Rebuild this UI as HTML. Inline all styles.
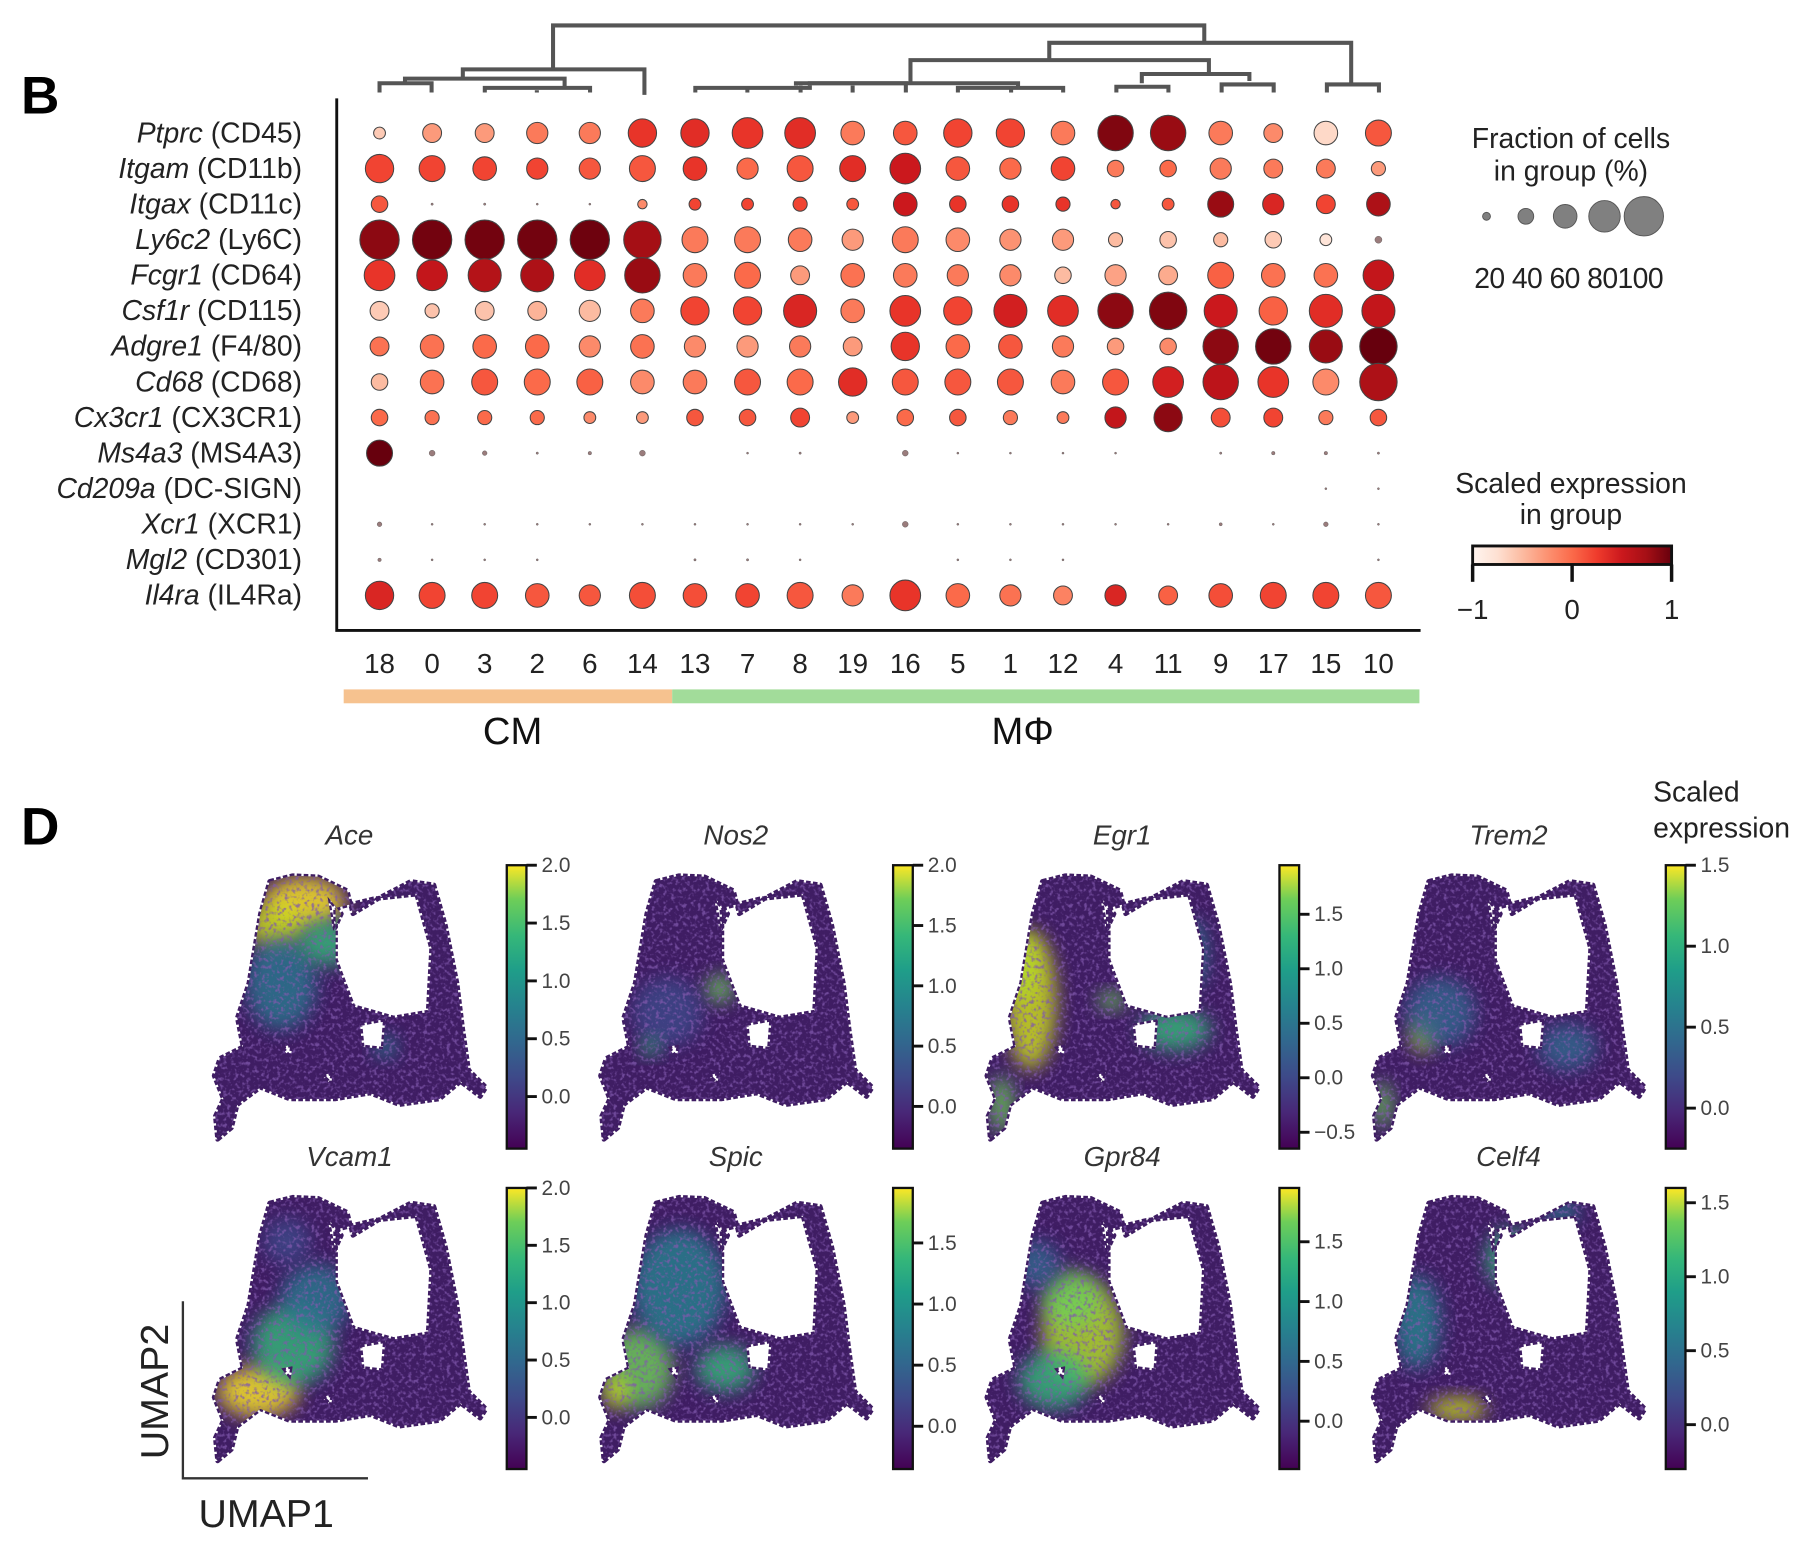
<!DOCTYPE html>
<html><head><meta charset="utf-8"><style>
html,body{margin:0;padding:0;background:#fff;}
svg{display:block;font-family:"Liberation Sans",Arial,sans-serif;}
</style></head><body>
<svg id="fig" width="1814" height="1550" viewBox="0 0 1568 1340" xmlns="http://www.w3.org/2000/svg">
<defs>
<linearGradient id="redsGrad" x1="0" x2="1" y1="0" y2="0">
<stop offset="0" stop-color="#fff5f0"/><stop offset="0.125" stop-color="#fee0d2"/><stop offset="0.25" stop-color="#fcbba1"/><stop offset="0.375" stop-color="#fc9272"/><stop offset="0.5" stop-color="#fb6a4a"/><stop offset="0.625" stop-color="#ef3b2c"/><stop offset="0.75" stop-color="#cb181d"/><stop offset="0.875" stop-color="#a50f15"/><stop offset="1" stop-color="#67000d"/>
</linearGradient>
<linearGradient id="viridis" x1="0" x2="0" y1="1" y2="0">
<stop offset="0" stop-color="#440154"/><stop offset="0.13" stop-color="#482878"/><stop offset="0.25" stop-color="#3e4989"/><stop offset="0.38" stop-color="#31688e"/><stop offset="0.5" stop-color="#26828e"/><stop offset="0.63" stop-color="#1f9e89"/><stop offset="0.75" stop-color="#35b779"/><stop offset="0.88" stop-color="#6ece58"/><stop offset="1" stop-color="#fde725"/>
</linearGradient>
<filter id="blur6" x="-50%" y="-50%" width="200%" height="200%"><feGaussianBlur stdDeviation="8"/></filter>
<filter id="speck" x="0" y="0" width="100%" height="100%"><feTurbulence type="fractalNoise" baseFrequency="0.3" numOctaves="2" seed="3"/><feColorMatrix type="matrix" values="0 0 0 0 0.22  0 0 0 0 0.1  0 0 0 0 0.42  0 0 0 4 -2.0"/></filter>
</defs>
<g id="dotplot"></g>
<g id="umaps"></g>
</svg>
<script>
// ---------- Dot plot data ----------
const genes = ["Ptprc","Itgam","Itgax","Ly6c2","Fcgr1","Csf1r","Adgre1","Cd68","Cx3cr1","Ms4a3","Cd209a","Xcr1","Mgl2","Il4ra"];
const proteins = ["CD45","CD11b","CD11c","Ly6C","CD64","CD115","F4/80","CD68","CX3CR1","MS4A3","DC-SIGN","XCR1","CD301","IL4Ra"];
const clusters = ["18","0","3","2","6","14","13","7","8","19","16","5","1","12","4","11","9","17","15","10"];
const fracPtprc = [30,48,48,54,54,72,72,78,78,60,60,72,72,60,90,90,60,48,60,66];
const exprPtprc = [-0.6,-0.3,-0.3,-0.1,-0.1,0.3,0.35,0.3,0.35,-0.1,0.1,0.2,0.2,-0.1,0.9,0.8,-0.1,-0.2,-0.7,0.1];
const fracItgam = [72,66,60,54,54,66,60,54,66,66,78,60,54,60,42,42,54,48,48,36];
const exprItgam = [0.2,0.2,0.2,0.2,0.1,0.1,0.3,0.0,0.1,0.35,0.5,0.1,0.0,0.2,-0.1,0.0,-0.1,-0.1,-0.1,-0.3];
const fracItgax = [42,6,6,3,3,24,30,30,36,30,60,42,42,36,24,30,66,54,48,60];
const exprItgax = [0.1,0,0,0,0,-0.2,0.2,0.2,0.2,0.1,0.5,0.3,0.3,0.3,0.1,0.1,0.8,0.4,0.2,0.7];
const fracLy6c2 = [100,100,100,100,100,95,66,66,60,54,66,60,54,54,36,42,36,42,30,18];
const exprLy6c2 = [0.85,0.95,0.95,0.95,0.97,0.75,-0.1,-0.1,-0.1,-0.3,-0.1,-0.2,-0.25,-0.3,-0.5,-0.55,-0.5,-0.6,-0.8,-0.7];
const fracFcgr1 = [78,78,84,84,78,90,60,66,48,60,60,54,54,42,54,48,66,60,60,78];
const exprFcgr1 = [0.3,0.55,0.65,0.7,0.35,0.8,-0.1,0,-0.3,-0.05,-0.1,-0.1,-0.2,-0.5,-0.35,-0.4,0.05,-0.05,-0.05,0.55];
const fracCsf1r = [48,36,48,48,54,60,72,72,84,60,78,72,84,78,90,95,84,72,84,84];
const exprCsf1r = [-0.6,-0.55,-0.55,-0.45,-0.5,-0.1,0.2,0.2,0.4,-0.1,0.3,0.2,0.45,0.35,0.85,0.9,0.5,0.05,0.35,0.55];
const fracAdgre1 = [48,60,60,60,54,60,54,54,54,48,72,60,60,54,42,42,90,90,84,95];
const exprAdgre1 = [-0.05,-0.05,0,0,-0.2,-0.05,-0.2,-0.3,-0.1,-0.3,0.3,0,0.1,-0.1,-0.3,-0.2,0.85,0.95,0.8,1.0];
const fracCd68 = [42,60,66,66,66,60,60,66,66,72,66,66,66,60,66,78,90,78,66,95];
const exprCd68 = [-0.5,-0.05,0.1,0,0.05,-0.2,-0.1,0.1,0,0.35,0.1,0.1,0.1,-0.1,0.1,0.45,0.6,0.3,-0.2,0.7];
const fracCx3cr1 = [42,36,36,36,30,30,42,42,48,30,42,42,36,30,54,72,48,48,36,42];
const exprCx3cr1 = [0,-0.05,0,0,-0.2,-0.3,0.1,0.1,0.2,-0.3,0,0.1,-0.1,-0.1,0.55,0.85,0.15,0.2,-0.1,0.1];
const fracMs4a3 = [66,15,12,6,9,15,0,3,6,0,15,3,3,3,2,0,6,9,9,6];
const exprMs4a3 = [1.0,0.1,-0.2,-0.5,-0.3,0,0,-0.5,-0.5,0,0.1,-0.5,-0.5,-0.5,-0.5,0,-0.4,-0.3,-0.3,-0.4];
const fracCd209a = [0,0,0,0,0,0,0,0,0,0,0,0,0,0,0,0,0,0,3,3];
const exprCd209a = [0,0,0,0,0,0,0,0,0,0,0,0,0,0,0,0,0,0,-0.3,-0.3];
const fracXcr1 = [12,3,5,3,3,5,5,3,5,3,15,4,4,3,4,4,8,4,12,4];
const exprXcr1 = [-0.2,-0.5,-0.5,-0.5,-0.5,-0.5,-0.5,-0.5,-0.5,-0.5,0.1,-0.5,-0.5,-0.5,-0.5,-0.5,-0.3,-0.5,0,-0.5];
const fracMgl2 = [9,3,3,2,0,0,6,6,3,0,0,3,3,3,0,0,0,0,0,4];
const exprMgl2 = [-0.4,-0.5,-0.5,-0.5,0,0,-0.4,-0.4,-0.5,0,0,-0.5,-0.5,-0.5,0,0,0,0,0,-0.5];
const fracIl4ra = [72,66,66,60,54,66,60,60,66,54,78,60,54,48,54,48,60,66,66,66];
const exprIl4ra = [0.4,0.2,0.2,0.1,0.1,0.15,0.15,0.2,0.1,-0.1,0.3,0.0,-0.05,-0.15,0.4,0.05,0.15,0.2,0.2,0.1];
const sizeLegend = [20,40,60,80,100];
const colorTicks = [-1,0,1];

// ---------- UMAP colorbar data ----------
const umapGenes = ["Ace","Nos2","Egr1","Trem2","Vcam1","Spic","Gpr84","Celf4"];
const cbMin = [-0.45,-0.35,-0.65,-0.25,-0.45,-0.35,-0.4,-0.3];
const cbMax = [2.0,2.0,1.95,1.5,2.0,1.95,1.95,1.6];
const ticksAce = [0.0,0.5,1.0,1.5,2.0];
const ticksNos2 = [0.0,0.5,1.0,1.5,2.0];
const ticksEgr1 = [-0.5,0.0,0.5,1.0,1.5];
const ticksTrem2 = [0.0,0.5,1.0,1.5];
const ticksVcam1 = [0.0,0.5,1.0,1.5,2.0];
const ticksSpic = [0.0,0.5,1.0,1.5];
const ticksGpr84 = [0.0,0.5,1.0,1.5];
const ticksCelf4 = [0.0,0.5,1.0,1.5];

const fracs=[fracPtprc,fracItgam,fracItgax,fracLy6c2,fracFcgr1,fracCsf1r,fracAdgre1,fracCd68,fracCx3cr1,fracMs4a3,fracCd209a,fracXcr1,fracMgl2,fracIl4ra];
const exprs=[exprPtprc,exprItgam,exprItgax,exprLy6c2,exprFcgr1,exprCsf1r,exprAdgre1,exprCd68,exprCx3cr1,exprMs4a3,exprCd209a,exprXcr1,exprMgl2,exprIl4ra];
const umapTicks=[ticksAce,ticksNos2,ticksEgr1,ticksTrem2,ticksVcam1,ticksSpic,ticksGpr84,ticksCelf4];

const NS="http://www.w3.org/2000/svg";
function mk(parent,tag,attrs,text){const e=document.createElementNS(NS,tag);for(const k in attrs)e.setAttribute(k,attrs[k]);if(text!==undefined)e.textContent=text;parent.appendChild(e);return e;}

const xCol=i=>328+i*45.45;
const yRow=j=>115+j*30.75;
const rFrac=f=>17*f/100;
const redStops=["#fff5f0","#fee0d2","#fcbba1","#fc9272","#fb6a4a","#ef3b2c","#cb181d","#a50f15","#67000d"];
function hex2rgb(h){return [1,3,5].map(i=>parseInt(h.substr(i,2),16));}
function reds(e){let t=Math.max(0,Math.min(1,(e+1)/2))*8;const i=Math.min(7,Math.floor(t)),f=t-i;const a=hex2rgb(redStops[i]),b=hex2rgb(redStops[i+1]);return "rgb("+a.map((v,k)=>Math.round(v+(b[k]-v)*f)).join(",")+")";}

const dp=document.getElementById("dotplot");
let t=mk(dp,"text",{x:18,y:98,"font-size":46,"font-weight":"bold"},"B");



const dg=mk(dp,"g",{stroke:"#555","stroke-width":3.5,fill:"none"});


const segs=[
 "M478,60 V22 H1041 V37","M400,68 V60 H557 V82",
 "M350,72 V68 H488 V76","M328,80 V72 H373 V80","M419,80 V76 H510 V80","M464,80 V78",
 "M907,52 V37 H1168 V73","M1147,80 V73 H1192 V80",
 "M787,72 V52 H1045 V64","M987,72 V64 H1080 V70","M965,80 V75 H1010 V80","M1056,80 V73 H1101 V80",
 "M601,80 V76 H700 V74","M646,80 V76","M688,74 V72 H783 V80","M692,80 V74","M737,80 V74",
 "M828,80 V76 H919 V80","M874,80 V76","M700,74 V72 H880 V76"
];
segs.forEach(d=>mk(dg,"path",{d:d}));

const ax=mk(dp,"path",{d:"M291,85 V545 H1228",stroke:"#111","stroke-width":2.5,fill:"none"});



genes.forEach((g,j)=>{
  const tx=mk(dp,"text",{x:261,y:yRow(j)+8,"font-size":24.5,"text-anchor":"end",fill:"#222"});
  
  
  mk(tx,"tspan",{"font-style":"italic"},g);
  mk(tx,"tspan",{},"\u00a0("+proteins[j]+")");
});
clusters.forEach((c,i)=>{
  const tx=mk(dp,"text",{x:xCol(i),y:582,"font-size":24,"text-anchor":"middle",fill:"#222"},c);
  
  
});
genes.forEach((g,j)=>{
  clusters.forEach((c,i)=>{
    const f=fracs[j][i]; if(f<=0) return;
    const r=Math.max(rFrac(f),0.9);
    const small=f<20;
    const d=mk(dp,"circle",{cx:xCol(i),cy:yRow(j),r:r,fill:small?"#9a7c7c":reds(exprs[j][i]),stroke:"#444","stroke-width":small?0.3:0.9});
    
    
  });
});
let rb=mk(dp,"rect",{x:297,y:596,width:284,height:12,fill:"#f6c28f"});


rb=mk(dp,"rect",{x:581,y:596,width:646,height:12,fill:"#a2dc9a"});


t=mk(dp,"text",{x:443,y:643,"font-size":33,"text-anchor":"middle",fill:"#111"},"CM");


t=mk(dp,"text",{x:884,y:643,"font-size":33,"text-anchor":"middle",fill:"#111"},"M\u03a6");



t=mk(dp,"text",{x:1358,y:128,"font-size":24.5,"text-anchor":"middle",fill:"#222"},"Fraction of cells");


t=mk(dp,"text",{x:1358,y:156,"font-size":24.5,"text-anchor":"middle",fill:"#222"},"in group (%)");


sizeLegend.forEach((s,k)=>{
  const c=mk(dp,"circle",{cx:1285+k*34,cy:187,r:rFrac(s),fill:"#808080",stroke:"#555","stroke-width":0.8});
  
  
});
t=mk(dp,"text",{x:1356,y:249,"font-size":24.5,"text-anchor":"middle",fill:"#222","letter-spacing":"-0.5"},sizeLegend.slice(0,4).join(" ")+sizeLegend[4]);



t=mk(dp,"text",{x:1358,y:426,"font-size":24.5,"text-anchor":"middle",fill:"#222"},"Scaled expression");


t=mk(dp,"text",{x:1358,y:453,"font-size":24.5,"text-anchor":"middle",fill:"#222"},"in group");


const cb=mk(dp,"rect",{x:1273,y:472,width:172,height:16,fill:"url(#redsGrad)",stroke:"#111","stroke-width":2.5});


const cx=v=>1273+(v+1)/2*172;
colorTicks.forEach(v=>{
  mk(dp,"line",{x1:cx(v),x2:cx(v),y1:488,y2:503,stroke:"#111","stroke-width":3});
  const tt=mk(dp,"text",{x:cx(v),y:535,"font-size":24,"text-anchor":"middle",fill:"#222"},v<0?"\u2212"+Math.abs(v):String(v));
  
  
});

// ---------- UMAP panels ----------
const um=document.getElementById("umaps");
t=mk(um,"text",{x:18,y:730,"font-size":46,"font-weight":"bold"},"D");


t=mk(um,"text",{x:1429,y:693,"font-size":24.5,fill:"#222"},"Scaled");


t=mk(um,"text",{x:1429,y:724,"font-size":24.5,fill:"#222"},"expression");



const outer="M50,7 L70,2 L92,3 L117,15 L122,35 L147,20 L172,7 L192,10 L202,45 L212,95 L217,135 L222,170 L237,185 L232,193 L215,180 L197,195 L162,200 L137,190 L107,195 L67,195 L42,185 L22,200 L17,220 L5,230 L3,210 L10,195 L2,175 L7,160 L27,150 L22,125 L32,95 L37,65 L42,35 Z";
const holes=" M107,30 L140,22 L177,18 L190,65 L187,120 L157,125 L122,115 L107,75 Z M128,130 L150,126 L148,152 L130,150 Z M100,20 L112,35 L105,50 Z M60,150 L70,148 L68,160 Z M95,175 L105,172 L103,182 Z";
const cp=mk(document.querySelector("defs"),"clipPath",{id:"umapClip"});
mk(cp,"path",{d:outer+holes,"clip-rule":"evenodd"});

const hot=[
 [[80,25,35,22,"#fde725"],[55,45,25,20,"#d0e11c"],[60,95,30,40,"#2a788e"],[100,60,25,20,"#35b779"],[150,150,10,10,"#2a788e"]],
 [[105,100,12,12,"#6ece58"],[60,120,30,30,"#3e4989"],[45,150,8,8,"#35b779"]],
 [[40,110,22,60,"#d0e11c"],[30,80,15,30,"#b5de2b"],[15,200,10,25,"#6ece58"],[165,135,30,18,"#35b779"],[110,110,12,8,"#6ece58"],[180,70,12,30,"#2a788e"]],
 [[45,140,10,15,"#b5de2b"],[60,120,30,30,"#31688e"],[170,150,25,20,"#31688e"],[10,200,8,20,"#6ece58"]],
 [[40,170,35,22,"#fde725"],[70,130,35,35,"#35b779"],[90,90,30,30,"#2a788e"],[65,40,20,20,"#3e4989"]],
 [[35,150,30,35,"#6ece58"],[70,80,40,50,"#26828e"],[110,150,25,20,"#35b779"],[15,170,10,15,"#d0e11c"]],
 [[85,120,35,45,"#b5de2b"],[75,90,25,25,"#6ece58"],[60,160,30,25,"#35b779"],[45,60,20,20,"#31688e"]],
 [[75,185,25,10,"#d0e11c"],[120,55,20,25,"#35b779"],[40,110,20,40,"#26828e"],[165,15,15,10,"#2a788e"]]
];
for(let p=0;p<8;p++){
  const col=p%4,row=Math.floor(p/4);
  const ox=183+col*334, oy=755+row*278;
  const g=mk(um,"g",{});
  
  
  const tt=mk(g,"text",{x:302+col*334,y:730+row*278,"font-size":24,"font-style":"italic","text-anchor":"middle",fill:"#333"},umapGenes[p]);
  
  
  const sg=mk(g,"g",{transform:"translate("+ox+","+oy+")"});
  const base=mk(sg,"path",{d:outer+holes,"fill-rule":"evenodd",fill:"#3f1d63",stroke:"#3f1d63","stroke-width":4,"stroke-linejoin":"round","stroke-dasharray":"4 2"});
  
  
  const hg=mk(sg,"g",{"clip-path":"url(#umapClip)"});
  hot[p].forEach(h=>mk(hg,"ellipse",{cx:h[0],cy:h[1],rx:h[2],ry:h[3],fill:h[4],filter:"url(#blur6)",opacity:0.82}));
  mk(hg,"rect",{x:0,y:0,width:240,height:232,filter:"url(#speck)",opacity:0.75});
  const bx=438+col*334, by=(row?1027:748), bh=(row?243:245);
  const bar=mk(g,"rect",{x:bx,y:by,width:17,height:bh,fill:"url(#viridis)",stroke:"#111","stroke-width":2});
  
  
  const yv=v=>by+bh-(v-cbMin[p])/(cbMax[p]-cbMin[p])*bh;
  umapTicks[p].forEach(v=>{
    const y=yv(v);
    mk(g,"line",{x1:bx+17,x2:bx+26,y1:y,y2:y,stroke:"#111","stroke-width":2.5});
    const lt=mk(g,"text",{x:bx+30,y:y+6,"font-size":18,fill:"#444"},(v<0?"\u2212"+Math.abs(v).toFixed(1):v.toFixed(1)));
    
    
  });
}
const ua=mk(um,"path",{d:"M158,1125 V1278 H318",stroke:"#333","stroke-width":2,fill:"none"});


t=mk(um,"text",{x:0,y:0,"font-size":34,"text-anchor":"middle",fill:"#222",transform:"translate(145,1203) rotate(-90)"},"UMAP2");


t=mk(um,"text",{x:230,y:1320,"font-size":34,"text-anchor":"middle",fill:"#222"},"UMAP1");


</script>
</body></html>
